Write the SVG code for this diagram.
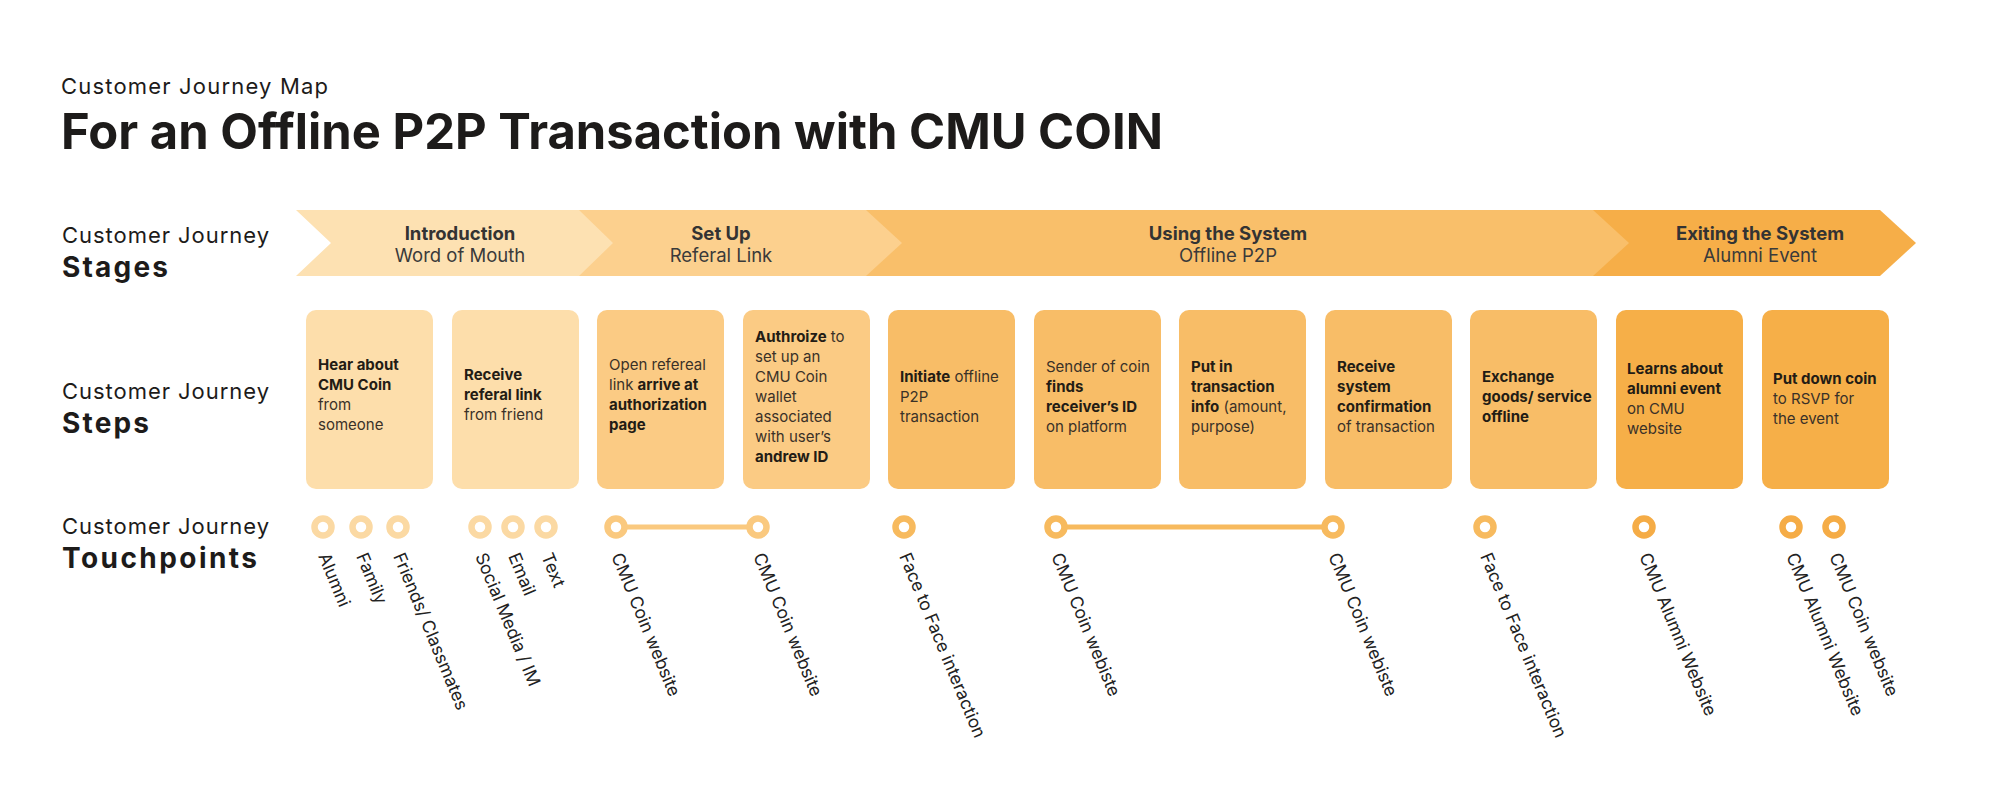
<svg xmlns="http://www.w3.org/2000/svg" width="2000" height="787" viewBox="0 0 2000 787">
<style>
text{font-family:Inter,"Liberation Sans",sans-serif;fill:#1d1b1a}
.h1{font-size:49px;font-weight:700}
.sub{font-size:22px;font-weight:400}
.lbl{font-size:22px;font-weight:400}
.lblb{font-size:28px;font-weight:700}
.stb{font-size:18.5px;font-weight:700;fill:#333;text-anchor:middle}
.str{font-size:18.5px;font-weight:400;fill:#3a3a3a;text-anchor:middle}
.bx{font-size:15px;font-weight:400;fill:#3a3128}
.bx .b{font-weight:700;fill:#231c15}
.tp{font-size:17.5px;font-weight:400;fill:#222}
.c1{fill:#fff;stroke:#FBD9A3;stroke-width:6.5}
.c2{fill:#fff;stroke:#FAC97F;stroke-width:6.5}
.c3{fill:#fff;stroke:#F7BA5E;stroke-width:6.5}
.c4{fill:#fff;stroke:#F5AC46;stroke-width:6.5}
.l2{stroke:#FAC97F;stroke-width:5}
.l3{stroke:#F7BA5E;stroke-width:5}
.k1{fill:#FDDEAB}.k2{fill:#FBCB84}.k3{fill:#F8BD67}.k4{fill:#F6AF48}
</style>
<rect width="2000" height="787" fill="#fff"/>
<g id="title">
<text class="sub" x="61" y="94" textLength="267" lengthAdjust="spacing">Customer Journey Map</text>
<text class="h1" x="61" y="149" textLength="1102" lengthAdjust="spacingAndGlyphs">For an Offline P2P Transaction with CMU COIN</text>
</g>
<g id="row-labels">
<text class="lbl" x="62" y="243" textLength="207" lengthAdjust="spacing">Customer Journey</text>
<text class="lblb" x="62" y="277" textLength="106" lengthAdjust="spacing">Stages</text>
<text class="lbl" x="62" y="399" textLength="207" lengthAdjust="spacing">Customer Journey</text>
<text class="lblb" x="62" y="433" textLength="87" lengthAdjust="spacing">Steps</text>
<text class="lbl" x="62" y="534" textLength="207" lengthAdjust="spacing">Customer Journey</text>
<text class="lblb" x="62" y="568" textLength="195" lengthAdjust="spacing">Touchpoints</text>
</g>
<g id="stages">
<g id="stage-exit"><polygon fill="#F6AE48" points="1593,210 1880,210 1916,243 1880,276 1593,276"/>
<text class="stb" x="1760" y="240">Exiting the System</text><text class="str" x="1760" y="262">Alumni Event</text></g>
<g id="stage-using"><polygon fill="#F9BF6A" points="866,210 1593,210 1629,243 1593,276 866,276"/>
<text class="stb" x="1228" y="240">Using the System</text><text class="str" x="1228" y="262">Offline P2P</text></g>
<g id="stage-setup"><polygon fill="#FCD08E" points="579,210 866,210 902,243 866,276 579,276"/>
<text class="stb" x="721" y="240">Set Up</text><text class="str" x="721" y="262">Referal Link</text></g>
<g id="stage-intro"><polygon fill="#FDE1B2" points="296,210 579,210 613,243 579,276 296,276 331,243"/>
<text class="stb" x="460" y="240">Introduction</text><text class="str" x="460" y="262">Word of Mouth</text></g>
</g>
<g id="steps">
<g id="step1"><rect class="k1" x="306" y="310" width="127" height="179" rx="10"/>
<text class="bx"><tspan class="b" x="318" y="370">Hear about</tspan><tspan class="b" x="318" y="390">CMU Coin</tspan><tspan x="318" y="410">from</tspan><tspan x="318" y="430">someone</tspan></text></g>
<g id="step2"><rect class="k1" x="452" y="310" width="127" height="179" rx="10"/>
<text class="bx"><tspan class="b" x="464" y="380">Receive</tspan><tspan class="b" x="464" y="400">referal link</tspan><tspan x="464" y="420">from friend</tspan></text></g>
<g id="step3"><rect class="k2" x="597" y="310" width="127" height="179" rx="10"/>
<text class="bx"><tspan x="609" y="370">Open refereal</tspan><tspan x="609" y="390">link <tspan class="b">arrive at</tspan></tspan><tspan class="b" x="609" y="410">authorization</tspan><tspan class="b" x="609" y="430">page</tspan></text></g>
<g id="step4"><rect class="k2" x="743" y="310" width="127" height="179" rx="10"/>
<text class="bx"><tspan x="755" y="342"><tspan class="b">Authroize</tspan> to</tspan><tspan x="755" y="362">set up an</tspan><tspan x="755" y="382">CMU Coin</tspan><tspan x="755" y="402">wallet</tspan><tspan x="755" y="422">associated</tspan><tspan x="755" y="442">with user’s</tspan><tspan class="b" x="755" y="462">andrew ID</tspan></text></g>
<g id="step5"><rect class="k3" x="888" y="310" width="127" height="179" rx="10"/>
<text class="bx"><tspan x="900" y="382"><tspan class="b">Initiate</tspan> offline</tspan><tspan x="900" y="402">P2P</tspan><tspan x="900" y="422">transaction</tspan></text></g>
<g id="step6"><rect class="k3" x="1034" y="310" width="127" height="179" rx="10"/>
<text class="bx"><tspan x="1046" y="372">Sender of coin</tspan><tspan class="b" x="1046" y="392">finds</tspan><tspan class="b" x="1046" y="412">receiver’s ID</tspan><tspan x="1046" y="432">on platform</tspan></text></g>
<g id="step7"><rect class="k3" x="1179" y="310" width="127" height="179" rx="10"/>
<text class="bx"><tspan class="b" x="1191" y="372">Put in</tspan><tspan class="b" x="1191" y="392">transaction</tspan><tspan x="1191" y="412"><tspan class="b">info</tspan> (amount,</tspan><tspan x="1191" y="432">purpose)</tspan></text></g>
<g id="step8"><rect class="k3" x="1325" y="310" width="127" height="179" rx="10"/>
<text class="bx"><tspan class="b" x="1337" y="372">Receive</tspan><tspan class="b" x="1337" y="392">system</tspan><tspan class="b" x="1337" y="412">confirmation</tspan><tspan x="1337" y="432">of transaction</tspan></text></g>
<g id="step9"><rect class="k3" x="1470" y="310" width="127" height="179" rx="10"/>
<text class="bx"><tspan class="b" x="1482" y="382">Exchange</tspan><tspan class="b" x="1482" y="402">goods/ service</tspan><tspan class="b" x="1482" y="422">offline</tspan></text></g>
<g id="step10"><rect class="k4" x="1616" y="310" width="127" height="179" rx="10"/>
<text class="bx"><tspan class="b" x="1627" y="374">Learns about</tspan><tspan class="b" x="1627" y="394">alumni event</tspan><tspan x="1627" y="414">on CMU</tspan><tspan x="1627" y="434">website</tspan></text></g>
<g id="step11"><rect class="k4" x="1762" y="310" width="127" height="179" rx="10"/>
<text class="bx"><tspan class="b" x="1773" y="384">Put down coin</tspan><tspan x="1773" y="404">to RSVP for</tspan><tspan x="1773" y="424">the event</tspan></text></g>
</g>
<g id="connectors">
<line class="l2" x1="616" y1="527" x2="758" y2="527"/>
<line class="l3" x1="1056" y1="527" x2="1333" y2="527"/>
</g>
<g id="touchpoints">
<g id="tp-alumni"><circle class="c1" cx="323" cy="527" r="8.5"/><text class="tp" transform="translate(318,556) rotate(67.5)">Alumni</text></g>
<g id="tp-family"><circle class="c1" cx="361" cy="527" r="8.5"/><text class="tp" transform="translate(356,556) rotate(67.5)">Family</text></g>
<g id="tp-friends"><circle class="c1" cx="398" cy="527" r="8.5"/><text class="tp" transform="translate(393,556) rotate(67.5)">Friends/ Classmates</text></g>
<g id="tp-social"><circle class="c1" cx="480" cy="527" r="8.5"/><text class="tp" transform="translate(475,556) rotate(67.5)">Social Media / IM</text></g>
<g id="tp-email"><circle class="c1" cx="513" cy="527" r="8.5"/><text class="tp" transform="translate(508,556) rotate(67.5)">Email</text></g>
<g id="tp-text"><circle class="c1" cx="546" cy="527" r="8.5"/><text class="tp" transform="translate(541,556) rotate(67.5)">Text</text></g>
<g id="tp-coin1"><circle class="c2" cx="616" cy="527" r="8.5"/><text class="tp" transform="translate(611,556) rotate(67.5)">CMU Coin website</text></g>
<g id="tp-coin2"><circle class="c2" cx="758" cy="527" r="8.5"/><text class="tp" transform="translate(753,556) rotate(67.5)">CMU Coin website</text></g>
<g id="tp-f2f1"><circle class="c3" cx="904" cy="527" r="8.5"/><text class="tp" transform="translate(899,556) rotate(67.5)">Face to Face interaction</text></g>
<g id="tp-coin3"><circle class="c3" cx="1056" cy="527" r="8.5"/><text class="tp" transform="translate(1051,556) rotate(67.5)">CMU Coin webiste</text></g>
<g id="tp-coin4"><circle class="c3" cx="1333" cy="527" r="8.5"/><text class="tp" transform="translate(1328,556) rotate(67.5)">CMU Coin webiste</text></g>
<g id="tp-f2f2"><circle class="c3" cx="1485" cy="527" r="8.5"/><text class="tp" transform="translate(1480,556) rotate(67.5)">Face to Face interaction</text></g>
<g id="tp-alumweb1"><circle class="c4" cx="1644" cy="527" r="8.5"/><text class="tp" transform="translate(1639,556) rotate(67.5)">CMU Alumni Website</text></g>
<g id="tp-alumweb2"><circle class="c4" cx="1791" cy="527" r="8.5"/><text class="tp" transform="translate(1786,556) rotate(67.5)">CMU Alumni Website</text></g>
<g id="tp-coin5"><circle class="c4" cx="1834" cy="527" r="8.5"/><text class="tp" transform="translate(1829,556) rotate(67.5)">CMU Coin website</text></g>
</g>
</svg>
